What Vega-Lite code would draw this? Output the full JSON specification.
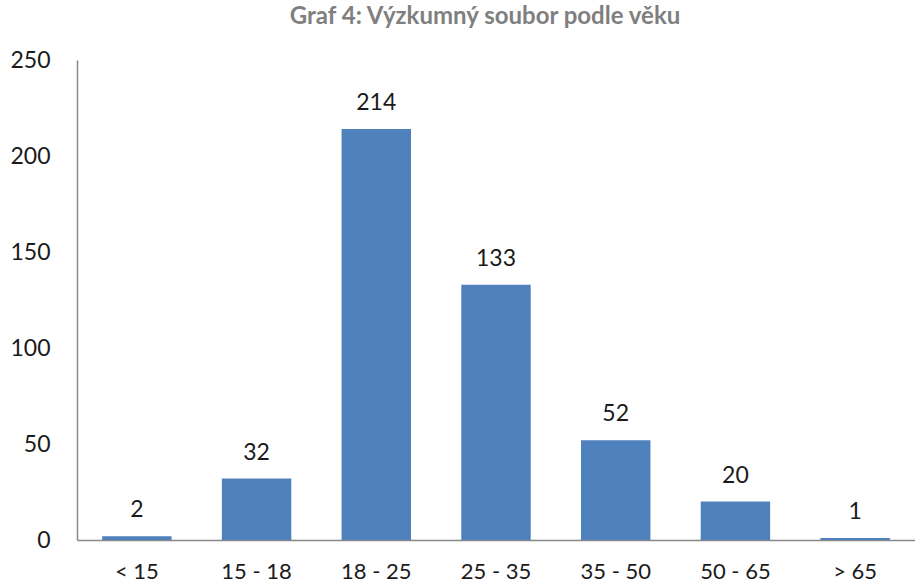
{
  "$schema": "https://vega.github.io/schema/vega-lite/v6.json",
  "autosize": "none",
  "width": 838,
  "height": 480,
  "padding": {"left": 77, "top": 60, "right": 0, "bottom": 44},
  "background": "white",
  "title": {
    "text": "Graf 4: Výzkumný soubor podle věku",
    "font": "Lato",
    "fontSize": 24,
    "fontWeight": "bold",
    "color": "#7f7f7f",
    "anchor": "middle",
    "dx": -11,
    "offset": 20
  },
  "data": {
    "values": [
      {"vek": "< 15", "pocet": 2},
      {"vek": "15 - 18", "pocet": 32},
      {"vek": "18 - 25", "pocet": 214},
      {"vek": "25 - 35", "pocet": 133},
      {"vek": "35 - 50", "pocet": 52},
      {"vek": "50 - 65", "pocet": 20},
      {"vek": "> 65", "pocet": 1}
    ]
  },
  "config": {
    "view": {"stroke": null},
    "axis": {"labelFont": "Lato", "labelFontSize": 23, "labelColor": "#1a1a1a", "grid": false, "ticks": false, "title": null, "domainColor": "#898989", "domainWidth": 1.5}
  },
  "encoding": {
    "x": {
      "field": "vek", "type": "nominal", "sort": null,
      "scale": {"paddingInner": 0.42, "paddingOuter": 0.21},
      "axis": {"labelAngle": 0, "labelPadding": 21, "labelFontSize": 22}
    },
    "y": {
      "field": "pocet", "type": "quantitative",
      "scale": {"domain": [0, 250], "nice": false},
      "axis": {"values": [0, 50, 100, 150, 200, 250], "labelPadding": 27}
    }
  },
  "layer": [
    {"mark": {"type": "bar", "color": "#4f81bd"}},
    {
      "mark": {"type": "text", "font": "Lato", "fontSize": 23, "color": "#1a1a1a", "baseline": "bottom", "dy": -14},
      "encoding": {"text": {"field": "pocet", "type": "quantitative"}}
    }
  ]
}
